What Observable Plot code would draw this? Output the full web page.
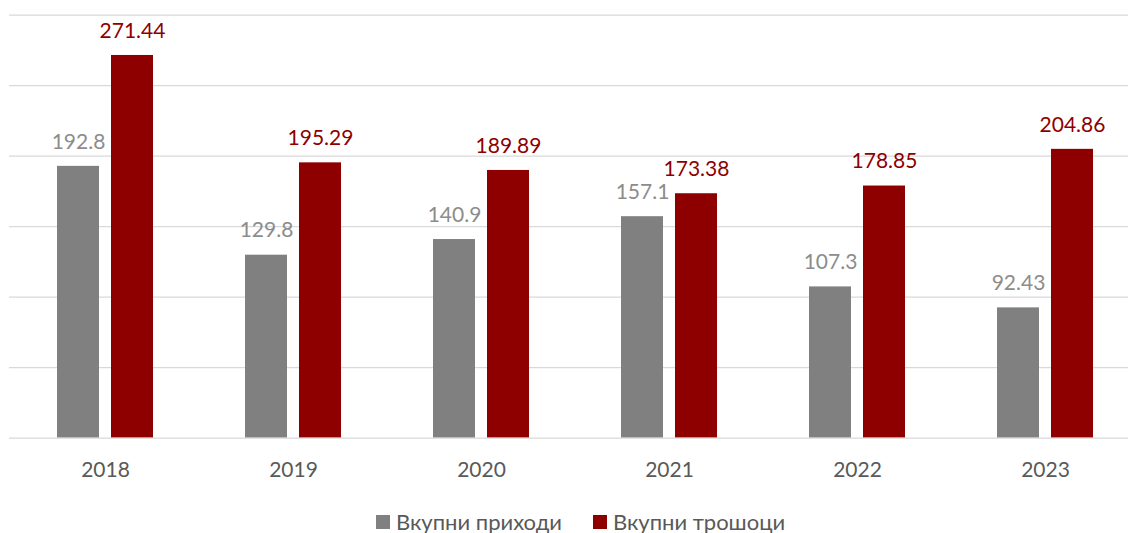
<!DOCTYPE html>
<html>
<head>
<meta charset="utf-8">
<script src="https://cdn.jsdelivr.net/npm/d3@7"></script>
<script src="https://cdn.jsdelivr.net/npm/@observablehq/plot@0.6"></script>
<style>
  html, body { margin: 0; padding: 0; background: #fff; }
  #wrap { position: relative; width: 1128px; height: 533px; }
  #legend { position: absolute; left: 376px; top: 510px; display: flex; align-items: center;
    font-family: Lato, "Noto Sans", sans-serif; font-size: 22px; color: #595959; line-height: 24px; }
  .item { display: flex; align-items: center; margin-right: 31px; }
  .sw { width: 14px; height: 14px; margin-right: 6px; }
</style>
</head>
<body>
<div id="wrap"><div id="chart"></div><div id="legend"></div></div>
<script>
const years = ["2018", "2019", "2020", "2021", "2022", "2023"];
const seriesNames = ["Вкупни приходи", "Вкупни трошоци"];
const revenues = [192.8, 129.8, 140.9, 157.1, 107.3, 92.43];
const expenses = [271.44, 195.29, 189.89, 173.38, 178.85, 204.86];
const yTicks = [0, 50, 100, 150, 200, 250, 300];
const colors = ["#808080", "#8e0000"];
const labelColors = ["#8c8c8c", "#8e0000"];

const rev = years.map((y, i) => ({year: y, value: revenues[i]}));
const exp = years.map((y, i) => ({year: y, value: expenses[i]}));

const chart = Plot.plot({
  width: 1128,
  height: 495,
  marginTop: 14.7,
  marginBottom: 57.3,
  marginLeft: 9,
  marginRight: 0,
  style: {fontFamily: "Lato, 'Noto Sans', sans-serif", fontSize: "21px", background: "#fff"},
  x: {domain: years, range: [9, 1141], paddingInner: 0.3, paddingOuter: 0.15, label: null},
  y: {domain: [0, 300], axis: null},
  marks: [
    Plot.ruleY(yTicks.slice(1), {stroke: "#d9d9d9", strokeWidth: 1.3}),
    Plot.barY(rev, {x: "year", y: "value", fill: colors[0], insetLeft: 18, insetRight: 72}),
    Plot.barY(exp, {x: "year", y: "value", fill: colors[1], insetLeft: 72, insetRight: 18}),
    Plot.ruleY([0], {stroke: "#d9d9d9", strokeWidth: 1.3}),
    Plot.text(rev, {x: "year", y: "value", text: d => String(d.value), dx: -27, dy: -17.7, lineAnchor: "bottom", fill: labelColors[0], fontSize: 21}),
    Plot.text(exp, {x: "year", y: "value", text: d => String(d.value), dx: 27, dy: -17.7, lineAnchor: "bottom", fill: labelColors[1], fontSize: 21}),
    Plot.axisX({tickSize: 0, tickPadding: 24, fontSize: 21, fill: "#595959", label: null})
  ]
});
document.getElementById("chart").appendChild(chart);

const legend = document.getElementById("legend");
seriesNames.forEach((name, i) => {
  const item = document.createElement("div");
  item.className = "item";
  const sw = document.createElement("div");
  sw.className = "sw";
  sw.style.background = colors[i];
  const t = document.createElement("span");
  t.textContent = name;
  item.appendChild(sw);
  item.appendChild(t);
  legend.appendChild(item);
});
</script>
</body>
</html>
